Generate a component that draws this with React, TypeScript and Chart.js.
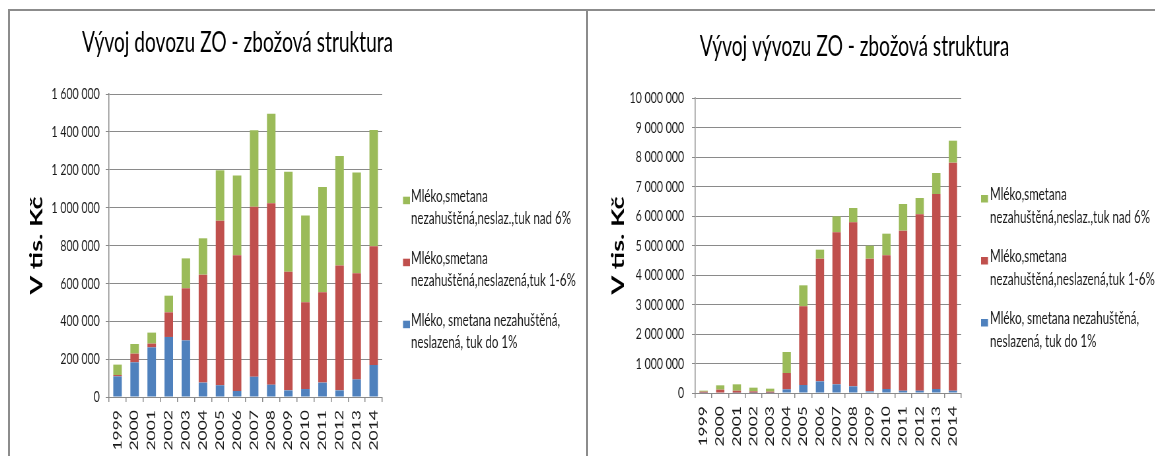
import React, { useEffect, useRef } from 'react';
import { Chart, registerables } from 'chart.js';

Chart.register(...registerables);

// ---------- data ----------
const years = ['1999', '2000', '2001', '2002', '2003', '2004', '2005', '2006', '2007', '2008', '2009', '2010', '2011', '2012', '2013', '2014'];

const seriesLines = [
  ['Mléko, smetana nezahuštěná,', 'neslazená, tuk do 1%'],
  ['Mléko,smetana', 'nezahuštěná,neslazená,tuk 1-6%'],
  ['Mléko,smetana', 'nezahuštěná,neslaz.,tuk nad 6%'],
];
const seriesColors = ['#4F81BD', '#C0504D', '#9BBB59'];

// Dovoz (import), v tis. Kč
const importLowFat = [109000, 183000, 262000, 317000, 299000, 76000, 62000, 32000, 107000, 65000, 35000, 42000, 76000, 35000, 93000, 169000];
const importMidFat = [7000, 46000, 20000, 130000, 275000, 570000, 869000, 716000, 897000, 958000, 627000, 458000, 477000, 659000, 560000, 627000];
const importHighFat = [55000, 51000, 58000, 88000, 158000, 192000, 266000, 421000, 404000, 473000, 528000, 458000, 556000, 579000, 532000, 614000];

// Vývoz (export), v tis. Kč
const exportLowFat = [10000, 15000, 10000, 8000, 8000, 124000, 271000, 395000, 294000, 226000, 56000, 136000, 79000, 79000, 136000, 79000];
const exportMidFat = [35000, 98000, 69000, 48000, 37000, 554000, 2667000, 4158000, 5152000, 5559000, 4497000, 4531000, 5424000, 5977000, 6609000, 7729000];
const exportHighFat = [34000, 147000, 215000, 125000, 102000, 712000, 712000, 305000, 543000, 486000, 441000, 734000, 904000, 554000, 712000, 745000];

const importTitle = 'Vývoj dovozu ZO - zbožová struktura';
const exportTitle = 'Vývoj vývozu ZO - zbožová struktura';
const yAxisTitle = 'V tis. Kč';

const importMax = 1600000;
const importStep = 200000;
const exportMax = 10000000;
const exportStep = 1000000;

// ---------- layout ----------
const SX = 0.66; // horizontal squeeze of the original picture
const FONT = 'Lato, "Open Sans", sans-serif';
const GRID = '#8a8a8a';

const fmt = (v: number) => String(v).replace(/\B(?=(\d{3})+(?!\d))/g, ' ');

const panelText = {
  id: 'panelText',
  afterDraw(chart: any, _args: any, opts: any) {
    const ctx = chart.ctx as CanvasRenderingContext2D;
    ctx.save();
    ctx.fillStyle = '#000';
    ctx.font = `29px ${FONT}`;
    ctx.textAlign = 'center';
    ctx.textBaseline = 'alphabetic';
    ctx.fillText(opts.title, opts.titleX, opts.titleY);

    ctx.font = `17.5px ${FONT}`;
    ctx.textAlign = 'left';
    const n = chart.data.datasets.length;
    for (let k = 0; k < n; k++) {
      const i = n - 1 - k;
      const ds = chart.data.datasets[i];
      const base = opts.legendY + k * opts.itemGap;
      ctx.fillStyle = ds.backgroundColor;
      ctx.fillRect(opts.boxX, base - 5, 10.5, 7.5);
      ctx.fillStyle = '#1a1a1a';
      seriesLines[i].forEach((line, j) => ctx.fillText(line, opts.textX, base + j * opts.lineH));
    }
    ctx.restore();
  },
};

type PanelProps = {
  left: number;
  top: number;
  width: number;
  height: number;
  data: number[][];
  max: number;
  step: number;
  title: string;
  padLeft: number;
  padRight: number;
  padTop: number;
  yWidth: number;
  xHeight: number;
  tickPad: number;
  titleX: number;
  titleY: number;
  boxX: number;
  textX: number;
  legendY: number;
};

function Panel(p: PanelProps) {
  const ref = useRef<HTMLCanvasElement | null>(null);
  useEffect(() => {
    if (!ref.current) return;
    const chart = new Chart(ref.current, {
      type: 'bar',
      data: {
        labels: years,
        datasets: p.data.map((vals, i) => ({
          label: seriesLines[i].join(' '),
          data: vals,
          backgroundColor: seriesColors[i],
          borderWidth: 0,
          categoryPercentage: 1,
          barPercentage: 0.5,
        })),
      },
      options: {
        animation: false,
        responsive: true,
        maintainAspectRatio: false,
        devicePixelRatio: 1,
        layout: { padding: { left: p.padLeft, right: p.padRight, top: p.padTop, bottom: 0 } },
        plugins: {
          legend: { display: false },
          title: { display: false },
          tooltip: { enabled: false },
          panelText: {
            title: p.title,
            titleX: p.titleX,
            titleY: p.titleY,
            boxX: p.boxX,
            textX: p.textX,
            legendY: p.legendY,
            itemGap: 62,
            lineH: 22.5,
          },
        } as any,
        scales: {
          x: {
            stacked: true,
            afterFit: (s: any) => { s.height = p.xHeight; },
            grid: { display: true, drawOnChartArea: false, drawTicks: true, tickLength: 5, offset: true, color: GRID, lineWidth: 1.5 },
            border: { display: true, color: GRID, width: 1 },
            ticks: { autoSkip: false, maxRotation: 90, minRotation: 90, padding: 8, color: '#1a1a1a', font: { family: FONT, size: 17.5 } },
          },
          y: {
            stacked: true,
            min: 0,
            max: p.max,
            afterFit: (s: any) => { s.width = p.yWidth; },
            grid: { color: GRID, lineWidth: 1, tickLength: 5, drawTicks: true },
            border: { display: true, color: GRID, width: 1.5 },
            ticks: { stepSize: p.step, padding: p.tickPad, color: '#1a1a1a', font: { family: FONT, size: 16 }, callback: (v: any) => fmt(Number(v)) },
            title: { display: true, text: yAxisTitle, color: '#000', padding: 0, font: { family: FONT, size: 27, weight: 'bold' } },
          },
        },
      },
      plugins: [panelText as any],
    });
    return () => chart.destroy();
  }, []);
  return (
    <div
      style={{
        position: 'absolute',
        left: p.left,
        top: p.top,
        width: p.width,
        height: p.height,
        transform: `scaleX(${SX})`,
        transformOrigin: '0 0',
      }}
    >
      <canvas ref={ref} />
    </div>
  );
}

export default function App() {
  return (
    <div style={{ position: 'fixed', left: 0, top: 0, width: 1155, height: 456, background: '#fff', overflow: 'hidden' }}>
      <Panel
        left={10}
        top={11}
        width={873}
        height={445}
        data={[importLowFat, importMidFat, importHighFat]}
        max={importMax}
        step={importStep}
        title={importTitle}
        padLeft={24}
        padRight={309}
        padTop={83}
        yWidth={126}
        xHeight={59}
        tickPad={9}
        titleX={344.7}
        titleY={41}
        boxX={595.5}
        textX={607.6}
        legendY={190.7}
      />
      <Panel
        left={589}
        top={11}
        width={858}
        height={445}
        data={[exportLowFat, exportMidFat, exportHighFat]}
        max={exportMax}
        step={exportStep}
        title={exportTitle}
        padLeft={28}
        padRight={294}
        padTop={87}
        yWidth={133}
        xHeight={63}
        tickPad={12}
        titleX={402.3}
        titleY={44.5}
        boxX={594}
        textX={607.6}
        legendY={189}
      />
      <div style={{ position: 'absolute', left: 8, top: 9, width: 1147, height: 2, background: '#8c8c8c' }} />
      <div style={{ position: 'absolute', left: 8, top: 9, width: 2, height: 447, background: '#8c8c8c' }} />
      <div style={{ position: 'absolute', left: 586, top: 9, width: 2, height: 447, background: '#8c8c8c' }} />
    </div>
  );
}
